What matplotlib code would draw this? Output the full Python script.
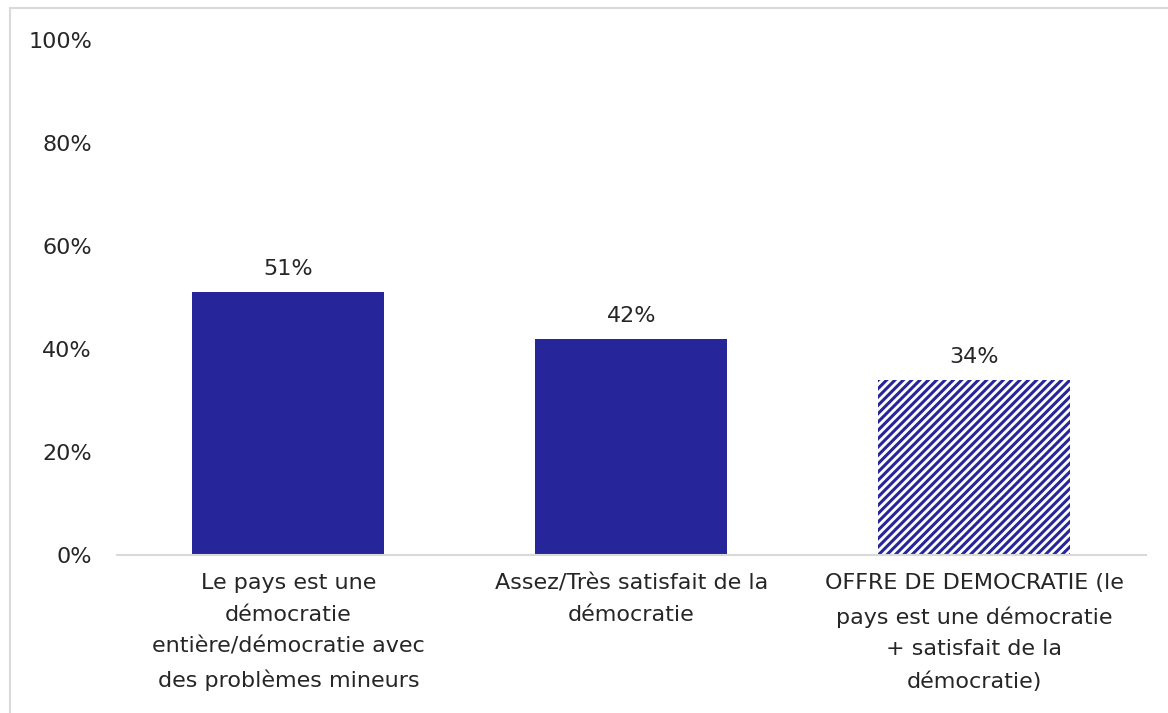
import matplotlib
matplotlib.use("Agg")
import matplotlib.pyplot as plt
from matplotlib.patches import Rectangle
from matplotlib.ticker import PercentFormatter

categories = [
    "Le pays est une\ndémocratie\nentière/démocratie avec\ndes problèmes mineurs",
    "Assez/Très satisfait de la\ndémocratie",
    "OFFRE DE DEMOCRATIE (le\npays est une démocratie\n+ satisfait de la\ndémocratie)",
]
values = [0.51, 0.42, 0.34]
value_labels = ["51%", "42%", "34%"]
hatched = [False, False, True]

bar_color = "#26269A"
grey = "#D9D9D9"
txt = "#262626"

plt.rcParams["font.family"] = ["DejaVu Sans"]
plt.rcParams["hatch.linewidth"] = 2.2
plt.rcParams["hatch.color"] = bar_color

fig = plt.figure(figsize=(11.68, 7.13), dpi=100)
ax = fig.add_axes([0.1002, 0.2216, 0.8807, 0.7223])

x = range(len(values))
for i, v in enumerate(values):
    if hatched[i]:
        ax.bar(i, v, width=0.56, color="white", edgecolor=bar_color, hatch="////", linewidth=0)
    else:
        ax.bar(i, v, width=0.56, color=bar_color, linewidth=0)
    ax.text(i, v + 0.025, value_labels[i], ha="center", va="bottom", fontsize=16, color=txt)

ax.set_xlim(-0.5, 2.5)
ax.set_ylim(0, 1)
ax.set_yticks([0, 0.2, 0.4, 0.6, 0.8, 1.0])
ax.yaxis.set_major_formatter(PercentFormatter(1, decimals=0))
ax.set_xticks(list(x))
ax.set_xticklabels(categories, fontsize=16, color=txt, linespacing=1.74)
ax.tick_params(axis="y", length=0, pad=18, labelsize=16, labelcolor=txt)
ax.tick_params(axis="x", length=0, pad=13)

for s in ["top", "right", "left"]:
    ax.spines[s].set_visible(False)
ax.spines["bottom"].set_color(grey)
ax.spines["bottom"].set_linewidth(1.5)

# outer chart frame (cropped by the image edges)
frame = Rectangle((10 / 1168, -0.1), 1.2, 0.1 + (713 - 8) / 713, transform=fig.transFigure,
                  fill=False, edgecolor=grey, linewidth=1.5, clip_on=False)
fig.patches.append(frame)

fig.savefig("out.png", dpi=100)
